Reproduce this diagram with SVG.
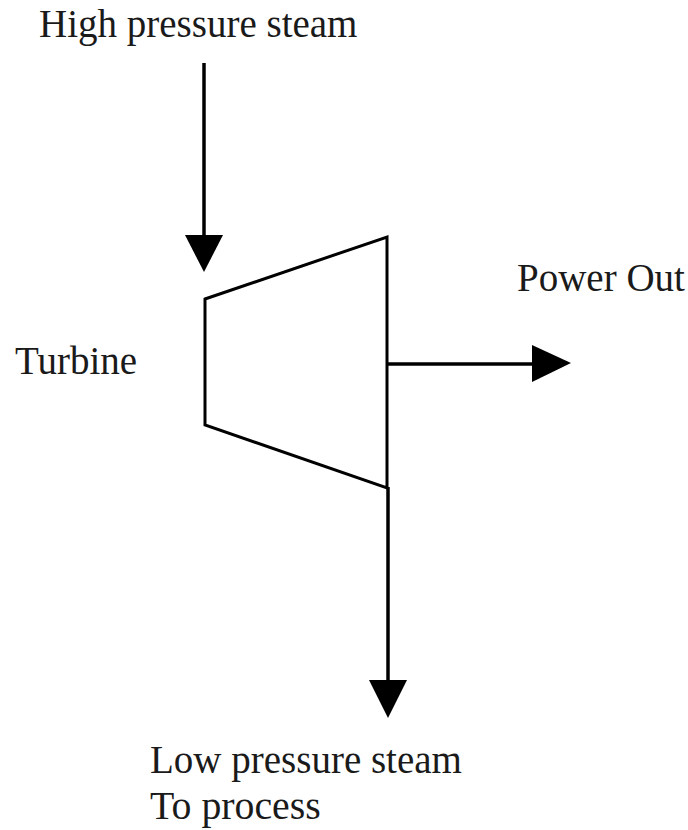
<svg xmlns="http://www.w3.org/2000/svg" width="688" height="830" viewBox="0 0 688 830">
<style>
text{font-family:"Liberation Serif","Times New Roman",serif;font-size:39px;fill:#1a1a1a}
.l{fill:none;stroke:#000;stroke-width:3}
.c{fill:none;stroke:#000;stroke-width:3.5}
.h{fill:#000;stroke:none}
</style>
<rect width="688" height="830" fill="#fff"/>
<g id="connectors">
<path class="c" d="M204 63V240"/><polygon class="h" points="185,235 223,235 204,272"/>
<path class="c" d="M387 364H535"/><polygon class="h" points="532,345 571,363 532,382"/>
<path class="c" d="M388 487V682"/><polygon class="h" points="369,680 407,680 388,718"/>
</g>
<g id="turbine"><polygon class="l" points="205,299 387,237 387,488 205,425"/><text x="15" y="374">Turbine</text></g>
<g id="high-pressure-steam"><text x="39" y="37">High pressure steam</text></g>
<g id="power-out"><text x="517" y="291">Power Out</text></g>
<g id="low-pressure-steam"><text x="150" y="773">Low pressure steam</text><text x="150" y="819" font-size="39.8" style="font-size:39.8px">To process</text></g>
</svg>
